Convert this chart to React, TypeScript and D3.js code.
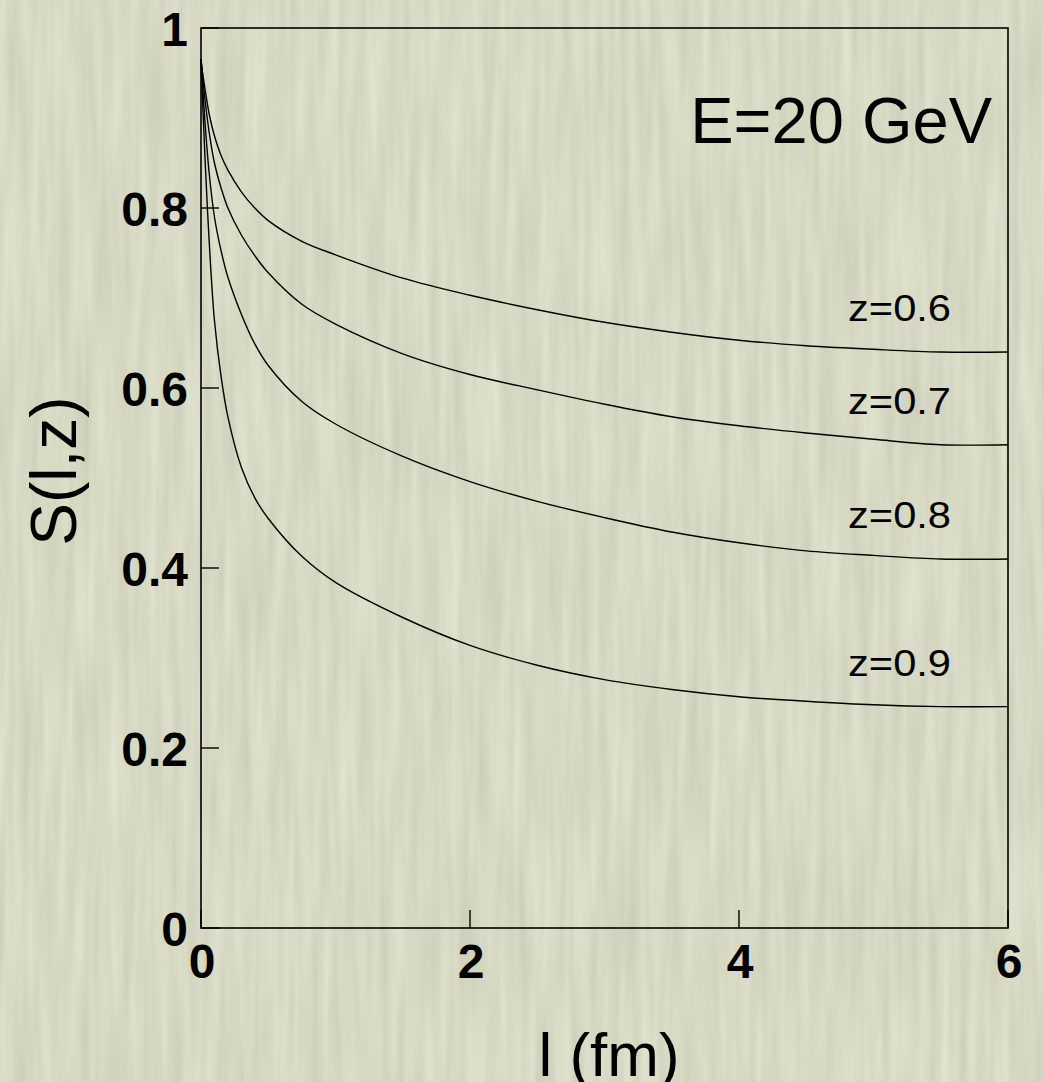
import React from "react";
import * as d3 from "d3";

// ---- data ----
const lValues = [0, 0.01, 0.03, 0.06, 0.1, 0.15, 0.2, 0.3, 0.4, 0.5, 0.75, 1, 1.5, 2, 2.5, 3, 3.5, 4, 4.5, 5, 5.5, 6];
const sZ06 = [0.965, 0.952, 0.932, 0.905, 0.88, 0.858, 0.842, 0.818, 0.8, 0.786, 0.763, 0.748, 0.722, 0.703, 0.687, 0.673, 0.662, 0.653, 0.647, 0.643, 0.640, 0.640];
const sZ07 = [0.965, 0.95, 0.92, 0.885, 0.85, 0.822, 0.8, 0.77, 0.747, 0.728, 0.693, 0.671, 0.638, 0.615, 0.598, 0.582, 0.568, 0.558, 0.550, 0.543, 0.537, 0.537];
const sZ08 = [0.965, 0.94, 0.895, 0.84, 0.79, 0.752, 0.723, 0.682, 0.649, 0.625, 0.585, 0.560, 0.524, 0.496, 0.474, 0.456, 0.440, 0.428, 0.419, 0.414, 0.410, 0.410];
const sZ09 = [0.965, 0.925, 0.855, 0.765, 0.675, 0.612, 0.568, 0.512, 0.478, 0.455, 0.413, 0.384, 0.345, 0.314, 0.292, 0.276, 0.265, 0.257, 0.252, 0.248, 0.246, 0.246];
const seriesLabels = ["z=0.6", "z=0.7", "z=0.8", "z=0.9"];
const seriesValues = [sZ06, sZ07, sZ08, sZ09];
const xTicks = [0, 2, 4, 6];
const yTicks = [0, 0.2, 0.4, 0.6, 0.8, 1];
const yTickLabels = ["0", "0.2", "0.4", "0.6", "0.8", "1"];
const xTickLabels = ["0", "2", "4", "6"];
const title = "E=20 GeV";
const xTitle = "l (fm)";
const yTitle = "S(l,z)";

// ---- layout ----
const W = 1044;
const H = 1082;
const plot = { left: 201, right: 1008, top: 28, bottom: 928 };
const FONT = "'Liberation Sans', Arial, Helvetica, sans-serif";

export default function App() {
  const x = d3.scaleLinear().domain([0, 6]).range([plot.left, plot.right]);
  const y = d3.scaleLinear().domain([0, 1]).range([plot.bottom, plot.top]);
  const line = d3
    .line<[number, number]>()
    .x((d) => x(d[0]))
    .y((d) => y(d[1]))
    .curve(d3.curveCatmullRom.alpha(0.5));

  return (
    <svg
      width={W}
      height={H}
      viewBox={`0 0 ${W} ${H}`}
      style={{ position: "absolute", left: 0, top: 0, display: "block" }}
    >
      <defs>
        <filter
          id="paper"
          x="0"
          y="0"
          width={W}
          height={H}
          filterUnits="userSpaceOnUse"
          colorInterpolationFilters="sRGB"
        >
          <feTurbulence type="fractalNoise" baseFrequency="0.1 0.006" numOctaves={2} seed={11} result="n" />
          <feColorMatrix
            in="n"
            type="matrix"
            values="0.11 0 0 0 0.79
                    0.11 0 0 0 0.795
                    0.11 0 0 0 0.71
                    0 0 0 0 1"
          />
        </filter>
      </defs>
      <rect x={0} y={0} width={W} height={H} fill="#d7d8c3" />
      <rect x={0} y={0} width={W} height={H} filter="url(#paper)" />

      {/* frame */}
      <rect
        x={plot.left}
        y={plot.top}
        width={plot.right - plot.left}
        height={plot.bottom - plot.top}
        fill="none"
        stroke="#000"
        strokeWidth={1.6}
      />

      {/* y ticks (inward) */}
      {yTicks.map((t) => (
        <line key={"yt" + t} x1={plot.left} x2={plot.left + 18} y1={y(t)} y2={y(t)} stroke="#000" strokeWidth={1.4} />
      ))}
      {/* x ticks (inward) */}
      {xTicks.map((t) => (
        <line key={"xt" + t} x1={x(t)} x2={x(t)} y1={plot.bottom} y2={plot.bottom - 18} stroke="#000" strokeWidth={1.4} />
      ))}

      {/* curves */}
      {seriesValues.map((vals, i) => (
        <path
          key={seriesLabels[i]}
          d={line(lValues.map((l, j) => [l, vals[j]] as [number, number])) || ""}
          fill="none"
          stroke="#000"
          strokeWidth={1.4}
          strokeLinejoin="round"
        />
      ))}

      {/* series labels */}
      {seriesValues.map((vals, i) => (
        <text
          key={"lab" + i}
          x={848}
          y={y(vals[vals.length - 1]) - 31}
          fontFamily={FONT}
          fontSize={37}
          textLength={103}
          lengthAdjust="spacingAndGlyphs"
          fill="#000"
        >
          {seriesLabels[i]}
        </text>
      ))}

      {/* y tick labels */}
      {yTicks.map((t, i) => (
        <text
          key={"yl" + t}
          x={188}
          y={y(t) + 18}
          textAnchor="end"
          fontFamily={FONT}
          fontWeight="bold"
          fontSize={48}
          fill="#000"
        >
          {yTickLabels[i]}
        </text>
      ))}
      {/* x tick labels */}
      {xTicks.map((t, i) => (
        <text
          key={"xl" + t}
          x={x(t) + 1}
          y={978}
          textAnchor="middle"
          fontFamily={FONT}
          fontWeight="bold"
          fontSize={48}
          fill="#000"
        >
          {xTickLabels[i]}
        </text>
      ))}

      {/* title */}
      <text x={992} y={143} textAnchor="end" fontFamily={FONT} fontSize={65} fill="#000">
        {title}
      </text>

      {/* axis titles */}
      <text x={609} y={1076} textAnchor="middle" fontFamily={FONT} fontSize={62} fill="#000">
        {xTitle}
      </text>
      <text
        transform="translate(76,471) rotate(-90)"
        textAnchor="middle"
        fontFamily={FONT}
        fontSize={64}
        fill="#000"
      >
        {yTitle}
      </text>
    </svg>
  );
}
